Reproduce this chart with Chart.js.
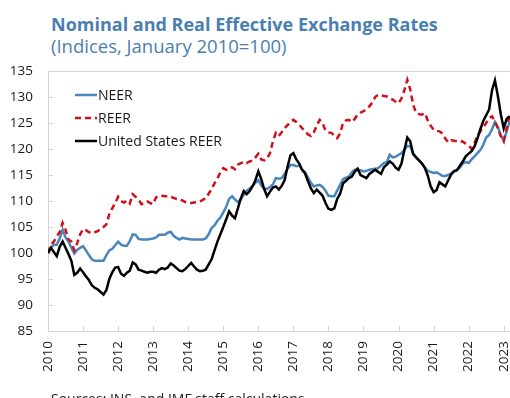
<!DOCTYPE html>
<html>
<head>
<meta charset="utf-8">
<script src="https://cdn.jsdelivr.net/npm/chart.js@4.4.0/dist/chart.umd.min.js"></script>
<style>
  body { margin: 0; width: 510px; height: 398px; overflow: hidden; background: #fff; position: relative; font-family: "Open Sans", sans-serif; }
  #title { position: absolute; left: 51px; top: 13px; font-size: 18px; line-height: 22px; font-weight: bold; color: #4a7fb0; white-space: nowrap; }
  #subtitle { position: absolute; left: 51px; top: 35px; font-size: 18.5px; line-height: 22px; color: #4a7fb0; white-space: nowrap; }
  #source { position: absolute; left: 51px; top: 389px; font-size: 14px; line-height: 20px; color: #222; white-space: nowrap; }
  #chart { position: absolute; left: 0; top: 0; }
</style>
</head>
<body>
<div id="title">Nominal and Real Effective Exchange Rates</div>
<div id="subtitle">(Indices, January 2010=100)</div>
<canvas id="chart" width="530" height="398"></canvas>
<div id="source">Sources: INS, and IMF staff calculations.</div>
<script>
// monthly index values, January 2010 = 100 (Jan 2010 .. Mar 2023)
const years = [2010, 2011, 2012, 2013, 2014, 2015, 2016, 2017, 2018, 2019, 2020, 2021, 2022, 2023];

const neer = [
  100.0, 101.0, 101.6, 101.6, 102.8, 104.5, 103.0, 102.2, 101.0, 99.9, 100.6, 101.0,
  101.3, 100.5, 99.6, 98.8, 98.5, 98.5, 98.5, 98.5, 99.6, 100.5, 100.8, 101.5,
  102.2, 101.6, 101.4, 101.4, 102.3, 103.6, 103.5, 102.7, 102.6, 102.6, 102.6, 102.7,
  102.8, 103.0, 103.5, 103.5, 103.5, 103.9, 104.1, 103.3, 102.9, 102.6, 102.9, 102.8,
  102.7, 102.6, 102.6, 102.6, 102.6, 102.6, 102.8, 103.6, 104.8, 105.3, 106.2, 106.8,
  107.8, 108.9, 110.4, 110.9, 110.3, 109.8, 110.3, 111.2, 112.0, 112.4, 112.9, 113.5,
  114.0, 113.0, 112.4, 112.3, 112.7, 113.2, 114.4, 114.3, 114.4, 115.2, 116.2, 116.9,
  116.9, 116.7, 116.8, 116.0, 115.5, 114.5, 113.5, 112.8, 113.0, 113.1, 112.7, 112.0,
  111.0, 110.9, 110.9, 112.0, 113.1, 114.2, 114.5, 114.7, 115.5, 116.0, 116.0, 115.9,
  115.7, 115.8, 116.0, 116.1, 116.2, 116.3, 116.8, 117.3, 117.5, 118.9, 118.4, 118.5,
  118.9, 119.2, 119.8, 120.6, 120.5, 119.2, 118.4, 117.8, 117.3, 116.4, 115.8, 115.6,
  115.4, 115.5, 115.2, 114.8, 114.8, 115.0, 115.3, 115.8, 116.0, 116.4, 117.2, 117.5,
  117.3, 118.0, 118.6, 119.2, 119.8, 120.8, 122.2, 122.7, 123.8, 125.2, 124.2, 122.6,
  121.6, 123.4, 125.2
];

const reer = [
  100.0, 101.6, 102.2, 103.2, 104.0, 105.8, 104.5, 102.6, 102.2, 100.5, 101.9, 103.6,
  104.6, 104.4, 104.0, 103.8, 104.0, 104.2, 104.6, 105.0, 105.5, 107.5, 108.6, 109.6,
  110.8, 110.0, 109.7, 110.1, 109.5, 111.3, 110.8, 110.3, 109.4, 109.6, 109.9, 109.6,
  109.4, 110.7, 111.0, 111.0, 110.9, 110.9, 110.8, 110.6, 110.4, 110.3, 110.1, 109.8,
  109.6, 109.6, 109.7, 109.8, 109.9, 110.2, 110.5, 111.4, 112.3, 113.4, 114.3, 115.5,
  116.3, 116.0, 116.4, 116.5, 116.1, 117.0, 117.3, 117.5, 117.3, 117.6, 117.8, 118.4,
  119.1, 118.0, 117.8, 118.2, 119.2, 121.5, 123.1, 122.5, 123.2, 124.0, 124.6, 125.2,
  125.6, 125.2, 124.7, 124.0, 123.4, 122.8, 122.5, 123.2, 124.5, 125.6, 125.0, 123.5,
  123.2, 123.1, 122.6, 122.1, 123.0, 125.0, 125.5, 125.6, 125.2, 125.8, 126.6, 127.0,
  127.3, 127.6, 128.2, 128.9, 130.0, 130.4, 130.3, 130.2, 130.1, 129.8, 129.5, 129.1,
  128.8, 129.7, 131.3, 133.3, 131.5, 128.5, 127.0, 126.7, 126.6, 126.9, 125.5, 124.5,
  123.7, 123.5, 123.4, 123.0, 122.0, 121.3, 121.7, 121.6, 121.5, 121.6, 121.4, 121.0,
  120.7, 120.0, 121.2, 122.5, 123.4, 124.2, 125.0, 125.9, 126.3, 125.3, 124.0, 122.5,
  121.5, 124.0, 126.3
];

const usReer = [
  100.0, 101.0, 100.2, 99.4, 101.2, 102.2, 101.0, 99.8, 98.5, 95.8, 96.2, 97.0,
  96.3, 95.5, 94.8, 93.8, 93.3, 93.0, 92.5, 92.0, 92.9, 95.0, 96.3, 97.2,
  97.3, 96.0, 95.6, 96.2, 96.6, 98.2, 97.8, 96.8, 96.6, 96.4, 96.2, 96.4,
  96.4, 96.2, 96.8, 97.1, 96.9, 97.2, 98.0, 97.6, 97.1, 96.6, 96.5, 96.9,
  97.5, 98.1, 97.4, 96.8, 96.5, 96.6, 96.8, 97.8, 98.8, 100.5, 102.2, 103.6,
  105.0, 106.5, 108.0, 107.2, 106.7, 108.6, 110.5, 111.9, 111.3, 111.9, 112.8, 114.0,
  115.7, 114.2, 112.3, 110.9, 111.8, 112.6, 112.8, 112.2, 112.9, 114.0, 116.6, 118.8,
  119.2, 118.0, 117.2, 116.0, 115.3, 113.8, 112.4, 111.5, 112.2, 111.6, 111.0, 109.6,
  108.5, 108.3, 108.6, 110.4, 111.4, 113.4, 113.9, 114.4, 114.7, 115.6, 116.2, 115.0,
  114.7, 114.4, 115.2, 115.6, 116.0, 115.6, 115.2, 116.5, 117.0, 117.6, 117.2, 116.4,
  116.0, 117.2, 119.8, 122.2, 121.5, 119.0, 118.4, 117.8, 117.2, 116.4, 114.9, 112.8,
  111.7, 112.1, 113.6, 113.2, 112.8, 114.0, 115.1, 115.7, 115.9, 116.8, 117.6, 118.6,
  119.1, 119.6, 120.5, 122.0, 123.8, 125.4, 126.5, 127.6, 131.3, 133.2, 130.2, 126.7,
  124.0, 125.8, 126.3
];

const toPoints = arr => arr.map((v, i) => ({ x: i, y: v }));

// short inward tick marks and the top frame line
const frameLines = {
  id: 'frameLines',
  beforeDatasetsDraw(chart) {
    const { ctx, chartArea, scales } = chart;
    ctx.save();
    ctx.strokeStyle = '#d4d4d4';
    ctx.lineWidth = 1;
    ctx.beginPath();
    scales.y.ticks.forEach(t => {
      const y = Math.round(scales.y.getPixelForValue(t.value)) + 0.5;
      ctx.moveTo(chartArea.left, y);
      ctx.lineTo(chartArea.left + 5, y);
    });
    scales.x.ticks.forEach(t => {
      const x = Math.round(scales.x.getPixelForValue(t.value)) + 0.5;
      ctx.moveTo(x, chartArea.bottom);
      ctx.lineTo(x, chartArea.bottom - 5);
    });
    ctx.moveTo(chartArea.left, chartArea.top + 0.5);
    ctx.lineTo(chartArea.right, chartArea.top + 0.5);
    ctx.stroke();
    ctx.restore();
  }
};

// legend stacked in the top-left corner of the plot
const insideLegend = {
  id: 'insideLegend',
  afterDraw(chart) {
    const { ctx, chartArea } = chart;
    ctx.save();
    ctx.font = '14px "Open Sans"';
    ctx.textBaseline = 'middle';
    chart.data.datasets.forEach((ds, i) => {
      const y = chartArea.top + 24 + i * 23;
      const x = chartArea.left + 27;
      ctx.strokeStyle = ds.borderColor;
      ctx.lineWidth = ds.borderWidth;
      ctx.setLineDash(ds.borderDash || []);
      ctx.beginPath();
      ctx.moveTo(x, y);
      ctx.lineTo(x + 22, y);
      ctx.stroke();
      ctx.setLineDash([]);
      ctx.fillStyle = '#1a1a1a';
      ctx.fillText(ds.label, x + 23, y + 1);
    });
    ctx.restore();
  }
};

const ctx = document.getElementById('chart');
new Chart(ctx, {
  type: 'line',
  data: {
    datasets: [
      { label: 'NEER', data: toPoints(neer), borderColor: '#4a86bc', borderWidth: 2.5, order: 2 },
      { label: 'REER', data: toPoints(reer), borderColor: '#d0101a', borderWidth: 2.5, borderDash: [6, 4], order: 1 },
      { label: 'United States REER', data: toPoints(usReer), borderColor: '#000000', borderWidth: 2.5, order: 0 }
    ]
  },
  options: {
    responsive: false,
    animation: false,
    devicePixelRatio: 1,
    layout: { padding: { top: 71, left: 0, right: 0, bottom: 0 } },
    elements: { point: { radius: 0 }, line: { tension: 0 } },
    plugins: { legend: { display: false }, tooltip: { enabled: false } },
    scales: {
      x: {
        type: 'linear',
        min: 0,
        max: 165,
        afterBuildTicks: scale => {
          scale.ticks = years.map((y, i) => ({ value: i * 12 }));
        },
        afterFit: scale => { scale.height = 398 - 331; },
        ticks: {
          minRotation: 90,
          maxRotation: 90,
          padding: 10,
          color: '#1a1a1a',
          font: { family: 'Open Sans', size: 13.5 },
          callback: v => years[v / 12]
        },
        grid: { drawOnChartArea: false, drawTicks: false },
        border: { display: true, color: '#d4d4d4', width: 1 }
      },
      y: {
        min: 85,
        max: 135,
        afterFit: scale => { scale.width = 48; },
        ticks: {
          stepSize: 5,
          padding: 15,
          color: '#1a1a1a',
          font: { family: 'Open Sans', size: 13.5 }
        },
        grid: { drawOnChartArea: false, drawTicks: false },
        border: { display: true, color: '#d4d4d4', width: 1 }
      }
    }
  },
  plugins: [frameLines, insideLegend]
});
</script>
</body>
</html>
